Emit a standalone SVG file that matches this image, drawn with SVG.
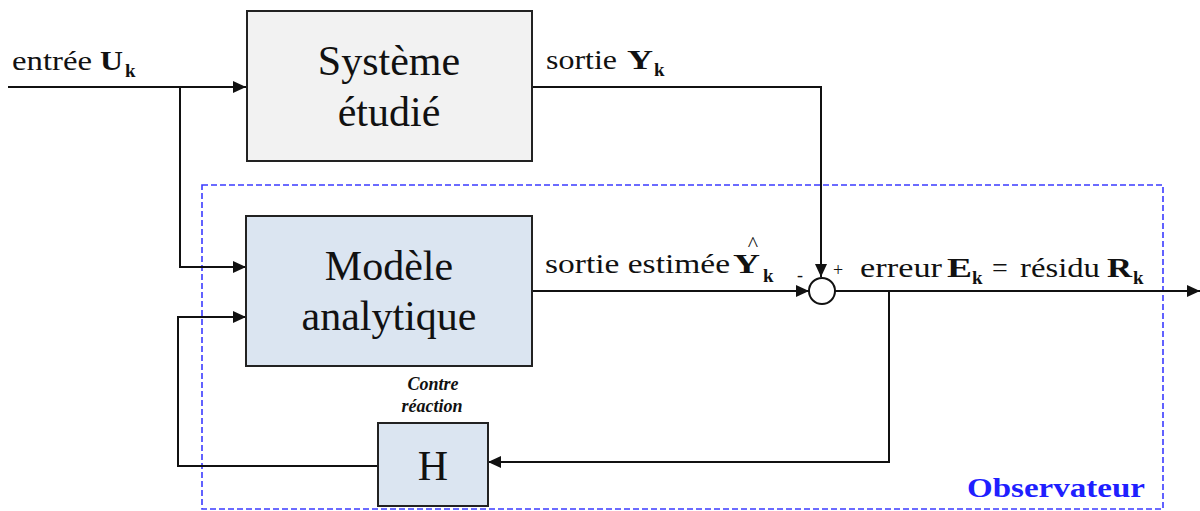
<svg xmlns="http://www.w3.org/2000/svg" width="1200" height="511" viewBox="0 0 1200 511">
<style>
.t{font-family:"Liberation Serif",serif;fill:#111}
.lbl{font-size:28px}
.b{font-weight:bold}
.sub{font-size:19px;font-weight:bold}
.big{font-size:42px;text-anchor:middle}
.cr{font-size:18px;font-style:italic;font-weight:bold;text-anchor:middle}
.box{stroke:#222;stroke-width:2}
.ln{fill:none;stroke:#111;stroke-width:2}
</style>
<defs>
<marker id="ah" markerUnits="userSpaceOnUse" markerWidth="13" markerHeight="12" refX="13" refY="6" orient="auto">
<path d="M0,0 L13,6 L0,12 z" fill="#111"/>
</marker>
</defs>
<rect id="observateur" x="202" y="185" width="961" height="324" fill="none" stroke="#3b3bff" stroke-width="1.6" stroke-dasharray="6,3"/>
<g id="connectors">
<path class="ln" d="M8 87 H246" marker-end="url(#ah)"/>
<path class="ln" d="M180 87 V267 H246" marker-end="url(#ah)"/>
<path class="ln" d="M378 466 H178 V317 H246" marker-end="url(#ah)"/>
<path class="ln" d="M532 87 H821 V277" marker-end="url(#ah)"/>
<path class="ln" d="M532 291 H809" marker-end="url(#ah)"/>
<path class="ln" d="M835 291 H1200" marker-end="url(#ah)"/>
<path class="ln" d="M889 291 V462 H488" marker-end="url(#ah)"/>
</g>
<g id="systeme">
<rect class="box" x="247" y="11" width="285" height="150" fill="#f2f2f2"/>
<text class="t big" x="389" y="75">Système</text>
<text class="t big" x="389" y="126">étudié</text>
</g>
<g id="modele">
<rect class="box" x="246" y="216" width="286" height="150" fill="#dbe5f1"/>
<text class="t big" x="389" y="280">Modèle</text>
<text class="t big" x="389" y="330">analytique</text>
</g>
<g id="h">
<rect class="box" x="378" y="423" width="110" height="83" fill="#dbe5f1"/>
<text class="t big" x="433" y="480">H</text>
<text class="t cr" x="433" y="390">Contre</text>
<text class="t cr" x="432" y="412">réaction</text>
</g>
<g id="comparateur">
<circle cx="822" cy="291" r="13" fill="#fff" stroke="#111" stroke-width="2"/>
<text class="t" x="800" y="281" font-size="18" text-anchor="middle">-</text>
<text class="t" x="838" y="276" font-size="18" text-anchor="middle">+</text>
</g>
<g id="labels">
<text class="t lbl" x="12" y="70" textLength="80" lengthAdjust="spacingAndGlyphs">entrée</text>
<text class="t lbl b" x="100" y="70" textLength="23" lengthAdjust="spacingAndGlyphs">U</text>
<text class="t sub" x="125" y="77">k</text>
<text class="t lbl" x="546" y="69" textLength="71" lengthAdjust="spacingAndGlyphs">sortie</text>
<text class="t lbl b" x="627" y="69" textLength="26" lengthAdjust="spacingAndGlyphs">Y</text>
<text class="t sub" x="654" y="76">k</text>
<text class="t lbl" x="545" y="273" textLength="185" lengthAdjust="spacingAndGlyphs">sortie estimée</text>
<text class="t lbl b" x="733" y="273" textLength="27" lengthAdjust="spacingAndGlyphs">Y</text>
<text class="t" x="753" y="251" font-size="22" text-anchor="middle">^</text>
<text class="t sub" x="763" y="282">k</text>
<text class="t lbl" x="860" y="277" textLength="82" lengthAdjust="spacingAndGlyphs">erreur</text>
<text class="t lbl b" x="947" y="277" textLength="25" lengthAdjust="spacingAndGlyphs">E</text>
<text class="t sub" x="972" y="284">k</text>
<text class="t lbl" x="992" y="277">=</text>
<text class="t lbl" x="1020" y="277" textLength="80" lengthAdjust="spacingAndGlyphs">résidu</text>
<text class="t lbl b" x="1107" y="277" textLength="25" lengthAdjust="spacingAndGlyphs">R</text>
<text class="t sub" x="1133" y="284">k</text>
<text class="t" x="967" y="497" font-size="27" font-weight="bold" style="fill:#1f1fff" textLength="178" lengthAdjust="spacingAndGlyphs">Observateur</text>
</g>
</svg>
